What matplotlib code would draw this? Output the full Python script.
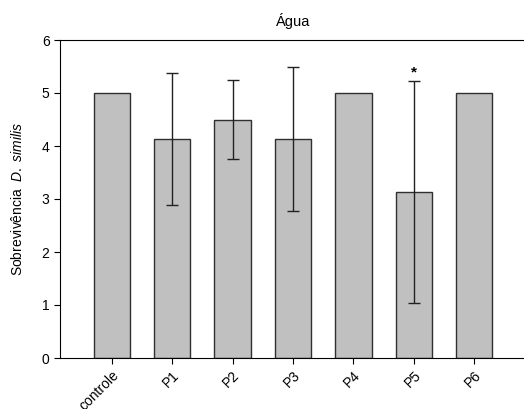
import matplotlib
matplotlib.use("Agg")
from matplotlib import pyplot as plt

plt.rcParams['font.family'] = ['Liberation Sans', 'DejaVu Sans']
plt.rcParams['mathtext.fontset'] = 'custom'
plt.rcParams['mathtext.it'] = 'Liberation Sans:italic'
plt.rcParams['mathtext.rm'] = 'Liberation Sans'

groups = ['controle', 'P1', 'P2', 'P3', 'P4', 'P5', 'P6']
means = [5.0, 4.13, 4.5, 4.13, 5.0, 3.13, 5.0]
errs = [0, 1.25, 0.75, 1.36, 0, 2.1, 0]
star_groups = ['P5']

fig = plt.figure(figsize=(5.24, 4.09), dpi=100)
ax = fig.add_axes([60/524, 51/409, 466/524, 318/409])

x = list(range(len(groups)))
ax.bar(x, means, width=0.6, color='#c0c0c0', edgecolor='#303030', linewidth=1.0)
for xi, m, e in zip(x, means, errs):
    if e > 0:
        ax.errorbar(xi, m, yerr=e, fmt='none', ecolor='#222222', elinewidth=1.0,
                    capsize=4, capthick=1.0)
for g in star_groups:
    i = groups.index(g)
    ax.text(i, means[i] + errs[i] + 0.03, '*', ha='center', va='bottom',
            fontsize=11, fontweight='bold')

ax.set_xlim(-0.856, 6.856)
ax.set_ylim(0, 6)
ax.set_yticks([0, 1, 2, 3, 4, 5, 6])
ax.set_xticks(x)
ax.set_xticklabels(groups, rotation=45, ha='right', rotation_mode='anchor', fontsize=10)
ax.tick_params(axis='y', labelsize=10, direction='out', length=4)
ax.tick_params(axis='x', direction='out', length=4)
ax.spines['right'].set_visible(False)
ax.set_ylabel(r'Sobrevivência  $\it{D.\ similis}$', fontsize=10, labelpad=12)
ax.set_title('Água', fontsize=10.5, pad=10)

plt.savefig('out.png', dpi=100)
